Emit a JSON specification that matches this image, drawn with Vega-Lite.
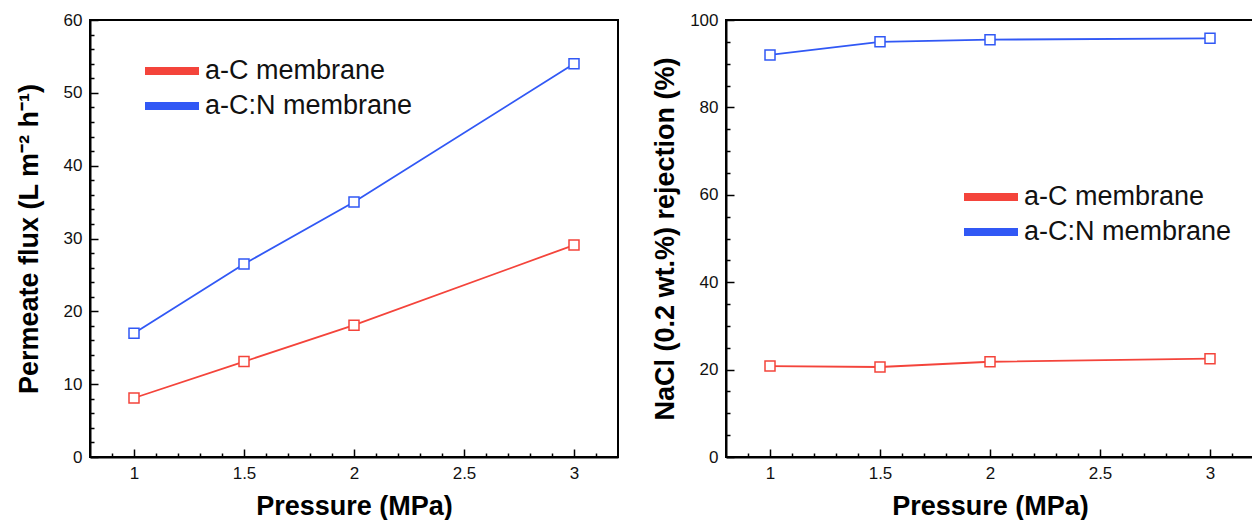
{
  "$schema": "https://vega.github.io/schema/vega-lite/v6.json",
  "background": "white",
  "padding": {"left": 14, "top": 10, "right": 0, "bottom": 0},
  "spacing": 31,
  "config": {
    "font": "Liberation Sans",
    "view": {"stroke": "black", "strokeWidth": 2},
    "axis": {
      "domainColor": "black", "domainWidth": 2, "tickColor": "black", "tickWidth": 1.5,
      "grid": false, "labelFont": "Liberation Sans", "labelFontSize": 17, "labelColor": "#111",
      "titleFont": "Liberation Sans", "titleFontSize": 27, "titleFontWeight": "bold", "titleColor": "black"
    },
    "legend": {
      "title": null, "orient": "none", "symbolType": "M-1.8,0H1.8", "symbolSize": 900, "symbolStrokeWidth": 8,
      "labelFont": "Liberation Sans", "labelFontSize": 27, "labelColor": "#111", "labelLimit": 0, "labelOffset": 14
    }
  },
  "datasets": {
    "flux": [
      {"membrane": "a-C membrane", "pressure": 1, "value": 8.1},
      {"membrane": "a-C membrane", "pressure": 1.5, "value": 13.1},
      {"membrane": "a-C membrane", "pressure": 2, "value": 18.1},
      {"membrane": "a-C membrane", "pressure": 3, "value": 29.1},
      {"membrane": "a-C:N membrane", "pressure": 1, "value": 17.0},
      {"membrane": "a-C:N membrane", "pressure": 1.5, "value": 26.5},
      {"membrane": "a-C:N membrane", "pressure": 2, "value": 35.0},
      {"membrane": "a-C:N membrane", "pressure": 3, "value": 54.0}
    ],
    "rejection": [
      {"membrane": "a-C membrane", "pressure": 1, "value": 20.8},
      {"membrane": "a-C membrane", "pressure": 1.5, "value": 20.6},
      {"membrane": "a-C membrane", "pressure": 2, "value": 21.8},
      {"membrane": "a-C membrane", "pressure": 3, "value": 22.5},
      {"membrane": "a-C:N membrane", "pressure": 1, "value": 92.0},
      {"membrane": "a-C:N membrane", "pressure": 1.5, "value": 95.0},
      {"membrane": "a-C:N membrane", "pressure": 2, "value": 95.5},
      {"membrane": "a-C:N membrane", "pressure": 3, "value": 95.8}
    ]
  },
  "resolve": {"scale": {"color": "independent", "stroke": "independent"}, "legend": {"color": "independent"}},
  "hconcat": [
    {
      "width": 528, "height": 437,
      "data": {"name": "flux"},
      "resolve": {"axis": {"x": "independent", "y": "independent"}},
      "layer": [
        {
          "mark": {"type": "line", "strokeWidth": 1.8},
          "encoding": {
            "x": {"field": "pressure", "type": "quantitative", "scale": {"domain": [0.8, 3.2], "nice": false},
                  "axis": {"values": [1, 1.5, 2, 2.5, 3], "format": "~g", "tickSize": -8, "labelPadding": 16, "title": "Pressure (MPa)", "titlePadding": 12}},
            "y": {"field": "value", "type": "quantitative", "scale": {"domain": [0, 60], "nice": false},
                  "axis": {"values": [0, 10, 20, 30, 40, 50, 60], "tickSize": -8, "labelPadding": 16, "title": "Permeate flux (L m⁻² h⁻¹)", "titlePadding": 20}},
            "color": {"field": "membrane", "type": "nominal",
                      "scale": {"domain": ["a-C membrane", "a-C:N membrane"], "range": ["#f4443b", "#3158f5"]},
                      "legend": {"legendX": 63, "legendY": 32, "rowPadding": -2}}
          }
        },
        {
          "mark": {"type": "point", "shape": "square", "size": 100, "fill": "white", "fillOpacity": 1, "strokeWidth": 1.5, "opacity": 1},
          "encoding": {
            "x": {"field": "pressure", "type": "quantitative", "axis": null},
            "y": {"field": "value", "type": "quantitative", "axis": null},
            "stroke": {"field": "membrane", "type": "nominal",
                       "scale": {"domain": ["a-C membrane", "a-C:N membrane"], "range": ["#f4443b", "#3158f5"]}, "legend": null}
          }
        },
        {
          "mark": {"type": "point", "opacity": 0},
          "encoding": {
            "x": {"field": "pressure", "type": "quantitative",
                  "axis": {"orient": "bottom", "values": [0.9, 1.1, 1.2, 1.3, 1.4, 1.6, 1.7, 1.8, 1.9, 2.1, 2.2, 2.3, 2.4, 2.6, 2.7, 2.8, 2.9, 3.1], "tickSize": -4, "labels": false, "title": null, "domain": false}},
            "y": {"field": "value", "type": "quantitative",
                  "axis": {"orient": "left", "values": [2, 4, 6, 8, 12, 14, 16, 18, 22, 24, 26, 28, 32, 34, 36, 38, 42, 44, 46, 48, 52, 54, 56, 58], "tickSize": -4, "labels": false, "title": null, "domain": false}}
          }
        }
      ]
    },
    {
      "width": 528, "height": 437,
      "data": {"name": "rejection"},
      "resolve": {"axis": {"x": "independent", "y": "independent"}},
      "layer": [
        {
          "mark": {"type": "line", "strokeWidth": 1.8},
          "encoding": {
            "x": {"field": "pressure", "type": "quantitative", "scale": {"domain": [0.8, 3.2], "nice": false},
                  "axis": {"values": [1, 1.5, 2, 2.5, 3], "format": "~g", "tickSize": -8, "labelPadding": 16, "title": "Pressure (MPa)", "titlePadding": 12}},
            "y": {"field": "value", "type": "quantitative", "scale": {"domain": [0, 100], "nice": false},
                  "axis": {"values": [0, 20, 40, 60, 80, 100], "tickSize": -8, "labelPadding": 16, "title": "NaCl (0.2 wt.%) rejection (%)", "titlePadding": 10}},
            "color": {"field": "membrane", "type": "nominal",
                      "scale": {"domain": ["a-C membrane", "a-C:N membrane"], "range": ["#f4443b", "#3158f5"]},
                      "legend": {"legendX": 246, "legendY": 158, "rowPadding": 0}}
          }
        },
        {
          "mark": {"type": "point", "shape": "square", "size": 100, "fill": "white", "fillOpacity": 1, "strokeWidth": 1.5, "opacity": 1},
          "encoding": {
            "x": {"field": "pressure", "type": "quantitative", "axis": null},
            "y": {"field": "value", "type": "quantitative", "axis": null},
            "stroke": {"field": "membrane", "type": "nominal",
                       "scale": {"domain": ["a-C membrane", "a-C:N membrane"], "range": ["#f4443b", "#3158f5"]}, "legend": null}
          }
        },
        {
          "mark": {"type": "point", "opacity": 0},
          "encoding": {
            "x": {"field": "pressure", "type": "quantitative",
                  "axis": {"orient": "bottom", "values": [0.9, 1.1, 1.2, 1.3, 1.4, 1.6, 1.7, 1.8, 1.9, 2.1, 2.2, 2.3, 2.4, 2.6, 2.7, 2.8, 2.9, 3.1], "tickSize": -4, "labels": false, "title": null, "domain": false}},
            "y": {"field": "value", "type": "quantitative",
                  "axis": {"orient": "left", "values": [5, 10, 15, 25, 30, 35, 45, 50, 55, 65, 70, 75, 85, 90, 95], "tickSize": -4, "labels": false, "title": null, "domain": false}}
          }
        }
      ]
    }
  ]
}
